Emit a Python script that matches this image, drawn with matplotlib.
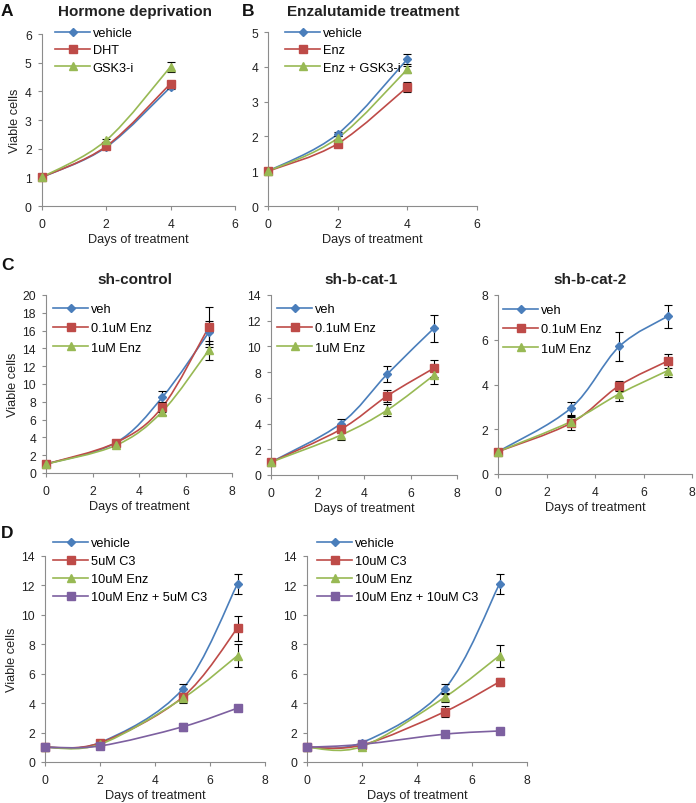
import matplotlib
matplotlib.use('Agg')
import matplotlib.pyplot as plt
from matplotlib.path import Path
from matplotlib.patches import PathPatch
from matplotlib.lines import Line2D

plt.rcParams['font.family'] = ['Liberation Sans', 'DejaVu Sans']

BLUE = '#4A7EBB'
RED = '#BE4B48'
GREEN = '#98B954'
PURPLE = '#7D60A0'
AXC = '#8C8C8C'

# ---------------- data ----------------
# Panel A: Hormone deprivation
a_days = [0, 2, 4]
a_labels = ['vehicle', 'DHT', 'GSK3-i']
a_vehicle = [1.0, 2.05, 4.15]
a_vehicle_err = [0.03, 0.05, 0.08]
a_dht = [1.0, 2.08, 4.27]
a_dht_err = [0.03, 0.05, 0.08]
a_gsk = [1.0, 2.29, 4.86]
a_gsk_err = [0.03, 0.06, 0.17]

# Panel B: Enzalutamide treatment
b_days = [0, 2, 4]
b_labels = ['vehicle', 'Enz', 'Enz + GSK3-i']
b_vehicle = [1.0, 2.07, 4.22]
b_vehicle_err = [0.03, 0.05, 0.14]
b_enz = [1.0, 1.79, 3.42]
b_enz_err = [0.03, 0.05, 0.14]
b_gsk = [1.0, 1.95, 3.93]
b_gsk_err = [0.03, 0.05, 0.10]

# Panel C
c_days = [0, 3, 5, 7]
c_labels = ['veh', '0.1uM Enz', '1uM Enz']
c1_veh = [1.0, 3.4, 8.5, 15.8]
c1_veh_err = [0.05, 0.2, 0.7, 1.3]
c1_01 = [1.0, 3.4, 7.4, 16.4]
c1_01_err = [0.05, 0.2, 0.6, 2.2]
c1_1 = [1.0, 3.1, 6.9, 13.8]
c1_1_err = [0.05, 0.2, 0.4, 1.05]

c2_veh = [1.0, 4.0, 7.85, 11.4]
c2_veh_err = [0.05, 0.35, 0.65, 1.05]
c2_01 = [1.0, 3.55, 6.15, 8.3]
c2_01_err = [0.05, 0.3, 0.45, 0.65]
c2_1 = [1.0, 3.1, 5.05, 7.75]
c2_1_err = [0.05, 0.4, 0.45, 0.65]

c3_veh = [1.0, 2.94, 5.7, 7.05]
c3_veh_err = [0.03, 0.3, 0.63, 0.52]
c3_01 = [1.0, 2.27, 3.95, 5.05]
c3_01_err = [0.03, 0.3, 0.22, 0.33]
c3_1 = [1.0, 2.34, 3.58, 4.62]
c3_1_err = [0.03, 0.2, 0.3, 0.3]

# Panel D
d_days = [0, 2, 5, 7]
d1_labels = ['vehicle', '5uM C3', '10uM Enz', '10uM Enz + 5uM C3']
d2_labels = ['vehicle', '10uM C3', '10uM Enz', '10uM Enz + 10uM C3']
d_veh = [1.0, 1.32, 4.95, 12.1]
d_veh_err = [0.05, 0.1, 0.35, 0.7]
d1_c3 = [1.0, 1.3, 4.4, 9.1]
d1_c3_err = [0.05, 0.1, 0.3, 0.85]
d1_enz = [1.0, 1.2, 4.32, 7.23]
d1_enz_err = [0.05, 0.1, 0.3, 0.78]
d1_combo = [1.0, 1.09, 2.39, 3.66]
d1_combo_err = [0.05, 0.1, 0.25, 0.2]
d2_c3 = [1.0, 1.15, 3.41, 5.45]
d2_c3_err = [0.05, 0.1, 0.38, 0.28]
d2_enz = [1.0, 1.05, 4.39, 7.23]
d2_enz_err = [0.05, 0.1, 0.3, 0.75]
d2_combo = [1.0, 1.2, 1.89, 2.11]
d2_combo_err = [0.05, 0.08, 0.08, 0.08]

# ---------------- helpers ----------------
W, H = 696, 804
fig = plt.figure(figsize=(W / 100, H / 100), dpi=100)

TICK_FS = 8.7
LEG_FS = 9.2
LAB_FS = 9.2


def fx(x):
    return x / W


def fy(y):
    return 1 - y / H


def add_axes(l, t, r, b):
    return fig.add_axes([fx(l), fy(b), fx(r) - fx(l), fy(t) - fy(b)])


STYLES = [
    dict(color=BLUE, marker='D', ms=4.4),
    dict(color=RED, marker='s', ms=5.4),
    dict(color=GREEN, marker='^', ms=5.8),
    dict(color=PURPLE, marker='s', ms=5.8),
]


def smooth_path(x, y):
    pts = list(zip(x, y))
    n = len(pts)
    verts = [pts[0]]
    codes = [Path.MOVETO]
    for i in range(n - 1):
        p0 = pts[i - 1] if i > 0 else pts[i]
        p1 = pts[i]
        p2 = pts[i + 1]
        p3 = pts[i + 2] if i + 2 < n else pts[i + 1]
        c1 = (p1[0] + (p2[0] - p0[0]) / 6, p1[1] + (p2[1] - p0[1]) / 6)
        c2 = (p2[0] - (p3[0] - p1[0]) / 6, p2[1] - (p3[1] - p1[1]) / 6)
        verts += [c1, c2, p2]
        codes += [Path.CURVE4] * 3
    return Path(verts, codes)


def style_axes(ax, xmax, ymax, ystep, xstep=2):
    ax.set_xlim(0, xmax)
    ax.set_ylim(0, ymax)
    ax.set_xticks(range(0, xmax + 1, xstep))
    ax.set_yticks(range(0, ymax + 1, ystep))
    for s in ['top', 'right']:
        ax.spines[s].set_visible(False)
    for s in ['left', 'bottom']:
        ax.spines[s].set_color(AXC)
        ax.spines[s].set_linewidth(0.8)
    ax.tick_params(axis='both', direction='out', length=3.2, width=0.8,
                   color=AXC, labelsize=TICK_FS, labelcolor='#222222')
    ax.tick_params(axis='x', pad=5.2)
    ax.tick_params(axis='y', pad=4)
    ax.patch.set_alpha(0)


def draw_series(ax, days, series, errs):
    for i, (ys, es) in enumerate(zip(series, errs)):
        st = STYLES[i]
        patch = PathPatch(smooth_path(days, ys), fill=False, edgecolor=st['color'],
                          linewidth=1.2, zorder=2, clip_on=False)
        ax.add_patch(patch)
    for i, (ys, es) in enumerate(zip(series, errs)):
        ax.errorbar(days, ys, yerr=es, fmt='none', ecolor='black', elinewidth=0.8,
                    capsize=2.8, capthick=0.8, zorder=3, clip_on=False)
    for i, (ys, es) in enumerate(zip(series, errs)):
        st = STYLES[i]
        ax.plot(days, ys, linestyle='none', marker=st['marker'], ms=st['ms'],
                color=st['color'], mec=st['color'], zorder=4, clip_on=False)


def add_legend(ax, labels, left_px, top_px, spacing=0.5):
    handles = []
    for i, lab in enumerate(labels):
        st = STYLES[i]
        handles.append(Line2D([0], [0], color=st['color'], lw=1.2, marker=st['marker'],
                              ms=st['ms'], mec=st['color']))
    ax.legend(handles, labels, loc='upper left', bbox_to_anchor=(fx(left_px), fy(top_px)),
              bbox_transform=fig.transFigure, frameon=False, fontsize=LEG_FS,
              handlelength=2.75, handletextpad=0.2, labelspacing=spacing,
              borderpad=0, borderaxespad=0)


def xlabel(ax):
    ax.set_xlabel('Days of treatment', fontsize=LAB_FS, color='#222222', labelpad=2.2)


def ylabel(ax):
    ax.set_ylabel('Viable cells', fontsize=LAB_FS, color='#222222', labelpad=2.5)


# ---------------- Panel A ----------------
axA = add_axes(41.7, 35, 235, 207)
style_axes(axA, 6, 6, 1)
draw_series(axA, a_days, [a_vehicle, a_dht, a_gsk], [a_vehicle_err, a_dht_err, a_gsk_err])
add_legend(axA, a_labels, 55, 28, 0.42)
xlabel(axA)
ylabel(axA)

# ---------------- Panel B ----------------
axB = add_axes(268, 33, 477, 207)
style_axes(axB, 6, 5, 1)
draw_series(axB, b_days, [b_vehicle, b_enz, b_gsk], [b_vehicle_err, b_enz_err, b_gsk_err])
add_legend(axB, b_labels, 285, 28, 0.42)
xlabel(axB)

# ---------------- Panel C ----------------
axC1 = add_axes(46, 296, 232, 474)
style_axes(axC1, 8, 20, 2)
draw_series(axC1, c_days, [c1_veh, c1_01, c1_1], [c1_veh_err, c1_01_err, c1_1_err])
add_legend(axC1, c_labels, 53, 304, 0.58)
xlabel(axC1)
ylabel(axC1)

axC2 = add_axes(271, 296, 457, 476)
style_axes(axC2, 8, 14, 2)
draw_series(axC2, c_days, [c2_veh, c2_01, c2_1], [c2_veh_err, c2_01_err, c2_1_err])
add_legend(axC2, c_labels, 277, 304, 0.58)
xlabel(axC2)

axC3 = add_axes(498, 296, 692, 475)
style_axes(axC3, 8, 8, 2)
draw_series(axC3, c_days, [c3_veh, c3_01, c3_1], [c3_veh_err, c3_01_err, c3_1_err])
add_legend(axC3, c_labels, 503, 305, 0.58)
xlabel(axC3)

# ---------------- Panel D ----------------
axD1 = add_axes(45, 557, 265, 763)
style_axes(axD1, 8, 14, 2)
draw_series(axD1, d_days, [d_veh, d1_c3, d1_enz, d1_combo],
            [d_veh_err, d1_c3_err, d1_enz_err, d1_combo_err])
add_legend(axD1, d1_labels, 53, 538, 0.48)
xlabel(axD1)
ylabel(axD1)

axD2 = add_axes(307, 557, 527, 763)
style_axes(axD2, 8, 14, 2)
draw_series(axD2, d_days, [d_veh, d2_c3, d2_enz, d2_combo],
            [d_veh_err, d2_c3_err, d2_enz_err, d2_combo_err])
add_legend(axD2, d2_labels, 317, 538, 0.48)
xlabel(axD2)

# ---------------- titles & panel letters ----------------
tkw = dict(fontsize=11, fontweight='bold', color='#222222', ha='center', va='center')
fig.text(fx(135), fy(12), 'Hormone deprivation', **tkw)
fig.text(fx(373), fy(12), 'Enzalutamide treatment', **tkw)
fig.text(fx(135), fy(280), 'sh-control', **tkw)
fig.text(fx(361), fy(280), 'sh-b-cat-1', **tkw)
fig.text(fx(590), fy(280), 'sh-b-cat-2', **tkw)

lkw = dict(fontsize=12.5, fontweight='bold', color='#111111', ha='left', va='center')
fig.text(fx(1), fy(12), 'A', **lkw)
fig.text(fx(242), fy(12), 'B', **lkw)
fig.text(fx(1), fy(265), 'C', **lkw)
fig.text(fx(1), fy(533), 'D', **lkw)

fig.savefig('out.png', dpi=100)
